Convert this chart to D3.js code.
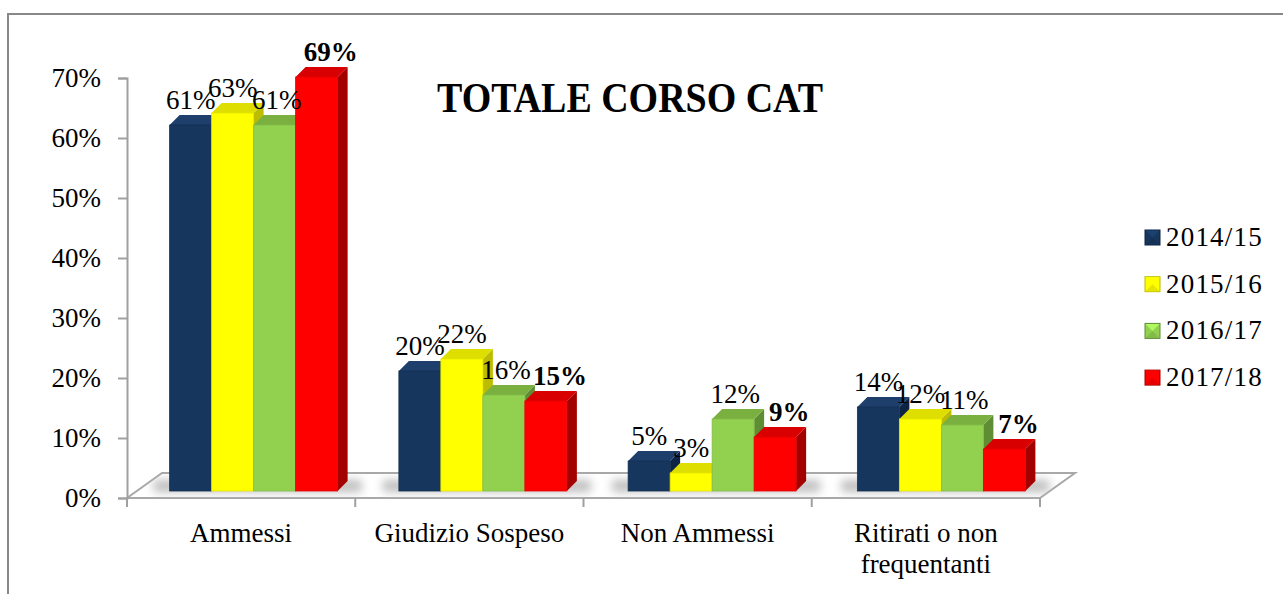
<!DOCTYPE html>
<html>
<head>
<meta charset="utf-8">
<script src="https://cdn.jsdelivr.net/npm/d3@7"></script>
<style>
  html, body { margin: 0; padding: 0; background: #fff; }
  svg { display: block; }
  text { font-family: "Liberation Serif", "Times New Roman", serif; fill: #000; }
</style>
</head>
<body>
<svg id="chart" width="1283" height="594"></svg>
<script>
// ---- data ----
const title = "TOTALE CORSO CAT";
const categories = ["Ammessi", "Giudizio Sospeso", "Non Ammessi", "Ritirati o non frequentanti"];
const series = ["2014/15", "2015/16", "2016/17", "2017/18"];
const values2014 = [61, 20, 5, 14];
const values2015 = [63, 22, 3, 12];
const values2016 = [61, 16, 12, 11];
const values2017 = [69, 15, 9, 7];
const yTicks = [0, 10, 20, 30, 40, 50, 60, 70];

const seriesValues = [values2014, values2015, values2016, values2017];
const palette = [
  { front: "#17365d", top: "#1e3f6b", side: "#0d2344" },
  { front: "#ffff00", top: "#dede00", side: "#bcbc00" },
  { front: "#92d050", top: "#79b040", side: "#5f8d33" },
  { front: "#ff0000", top: "#d80000", side: "#a30000" }
];
const boldSeries = [false, false, false, true];
const labelShift = [0, 0, 2, 14];   // horizontal nudge of value labels per series (style)

const svg = d3.select("#chart");
const W = 1283, H = 594;
const FS = 27;

// frame
svg.append("path")
  .attr("d", `M8,${H} L8,14 L${W},14`)
  .attr("fill", "none").attr("stroke", "#888").attr("stroke-width", 2);

// geometry
const floorFront = { x0: 127, x1: 1040, y: 498 };
const depth = { dx: 35, dy: -25 };
const barDepth = { dx: 10, dy: -10 };

const yAxisScale = d3.scaleLinear().domain([0, 70]).range([498, 78]);
const yBar = d3.scaleLinear().domain([0, 70]).range([491, 71]);

const xCat = d3.scaleBand().domain(categories).range([floorFront.x0, floorFront.x1]);
const xGroup = d3.scaleBand().domain(categories).range([139, 1056]);
const groupWidth = 168;
const xSeries = d3.scaleBand().domain(series).range([0, groupWidth]);

const defs = svg.append("defs");
defs.append("filter").attr("id", "blur").attr("x", "-50%").attr("y", "-200%").attr("width", "200%").attr("height", "500%")
  .append("feGaussianBlur").attr("stdDeviation", 5);
const floorPts = [
  [floorFront.x0, floorFront.y],
  [floorFront.x0 + depth.dx, floorFront.y + depth.dy],
  [floorFront.x1 + depth.dx, floorFront.y + depth.dy],
  [floorFront.x1, floorFront.y]
];
defs.append("clipPath").attr("id", "floorClip")
  .append("polygon").attr("points", floorPts.map(p => p.join(",")).join(" "));

// floor
svg.append("polygon")
  .attr("points", floorPts.map(p => p.join(",")).join(" "))
  .attr("fill", "#fff").attr("stroke", "#a8a8a8").attr("stroke-width", 2);

// shadows on floor
const shadowG = svg.append("g").attr("clip-path", "url(#floorClip)");
categories.forEach(c => {
  const gx = xGroup(c) + (xGroup.bandwidth() - groupWidth) / 2;
  shadowG.append("rect")
    .attr("x", gx - 16).attr("y", 480)
    .attr("width", groupWidth + 40).attr("height", 12)
    .attr("fill", "#bdbdbd").attr("filter", "url(#blur)");
});

// y axis
const yAxis = d3.axisLeft(yAxisScale).tickValues(yTicks).tickFormat(d => d + "%")
  .tickSize(9).tickPadding(17);
const yG = svg.append("g").attr("transform", `translate(${floorFront.x0},0)`).call(yAxis);
yG.select(".domain").attr("stroke", "#a0a0a0").attr("stroke-width", 2);
yG.selectAll(".tick line").attr("stroke", "#a0a0a0").attr("stroke-width", 2);
yG.selectAll(".tick text").attr("font-size", FS).attr("font-family", "Liberation Serif").attr("fill", "#000");

// x axis ticks (category boundaries)
const xBounds = categories.map(c => xCat(c)).concat([floorFront.x1]);
svg.append("g").selectAll("line").data(xBounds).join("line")
  .attr("x1", d => d).attr("x2", d => d)
  .attr("y1", floorFront.y).attr("y2", floorFront.y + 9)
  .attr("stroke", "#a0a0a0").attr("stroke-width", 2);

// category labels with wrapping
const catG = svg.append("g");
categories.forEach(c => {
  const cx = xCat(c) + xCat.bandwidth() / 2;
  const t = catG.append("text")
    .attr("x", cx).attr("y", 542)
    .attr("text-anchor", "middle")
    .attr("font-size", FS);
  const words = c.split(" ");
  let line = [];
  let tspan = t.append("tspan").attr("x", cx).attr("dy", 0);
  words.forEach(w => {
    line.push(w);
    tspan.text(line.join(" "));
    if (tspan.node().getComputedTextLength() > 205 && line.length > 1) {
      line.pop();
      tspan.text(line.join(" "));
      line = [w];
      tspan = t.append("tspan").attr("x", cx).attr("dy", 31).text(w);
    }
  });
});

// bars
const barsG = svg.append("g");
const labelsG = svg.append("g");
categories.forEach((c, ci) => {
  const gx = xGroup(c) + (xGroup.bandwidth() - groupWidth) / 2;
  series.forEach((s, si) => {
    const v = seriesValues[si][ci];
    const x = gx + xSeries(s);
    const w = xSeries.bandwidth();
    const yTop = yBar(v);
    const yBase = yBar(0);
    const col = palette[si];
    const g = barsG.append("g");
    g.append("polygon")
      .attr("points", [
        [x + w, yTop], [x + w + barDepth.dx, yTop + barDepth.dy],
        [x + w + barDepth.dx, yBase + barDepth.dy], [x + w, yBase]
      ].map(p => p.join(",")).join(" "))
      .attr("fill", col.side);
    g.append("polygon")
      .attr("points", [
        [x, yTop], [x + barDepth.dx, yTop + barDepth.dy],
        [x + w + barDepth.dx, yTop + barDepth.dy], [x + w, yTop]
      ].map(p => p.join(",")).join(" "))
      .attr("fill", col.top);
    g.append("rect")
      .attr("x", x).attr("y", yTop).attr("width", w).attr("height", yBase - yTop)
      .attr("fill", col.front)
      .attr("stroke", d3.color(col.front).darker(0.3)).attr("stroke-width", 0.8);

    labelsG.append("text")
      .attr("x", x + w / 2 + labelShift[si])
      .attr("y", yTop - 16)
      .attr("text-anchor", "middle")
      .attr("font-size", FS)
      .attr("font-weight", boldSeries[si] ? "bold" : "normal")
      .text(v + "%");
  });
});

// title
svg.append("text")
  .attr("x", 437).attr("y", 112)
  .attr("font-size", 42).attr("font-weight", "bold")
  .attr("textLength", 386).attr("lengthAdjust", "spacingAndGlyphs")
  .text(title);

// legend
const legend = svg.append("g");
series.forEach((s, i) => {
  const by = 246 + i * 46.7;
  const sx = 1145, sy = by - 16, sz = 15;
  const col = palette[i];
  const g = legend.append("g");
  g.append("rect").attr("x", sx).attr("y", sy).attr("width", sz).attr("height", sz)
    .attr("fill", col.front).attr("stroke", col.side).attr("stroke-width", 1);
  g.append("polygon")
    .attr("points", [[sx + 0.5, sy + 0.5], [sx + sz - 0.5, sy + 0.5], [sx + sz / 2, sy + sz / 2]].map(p => p.join(",")).join(" "))
    .attr("fill", d3.color(col.front).brighter(0.5));
  g.append("polygon")
    .attr("points", [[sx + 0.5, sy + sz - 0.5], [sx + sz - 0.5, sy + sz - 0.5], [sx + sz / 2, sy + sz / 2]].map(p => p.join(",")).join(" "))
    .attr("fill", d3.color(col.front).darker(0.3));
  g.append("text").attr("x", 1166).attr("y", by).attr("font-size", FS)
    .attr("letter-spacing", 1.2).text(s);
});
</script>
</body>
</html>
